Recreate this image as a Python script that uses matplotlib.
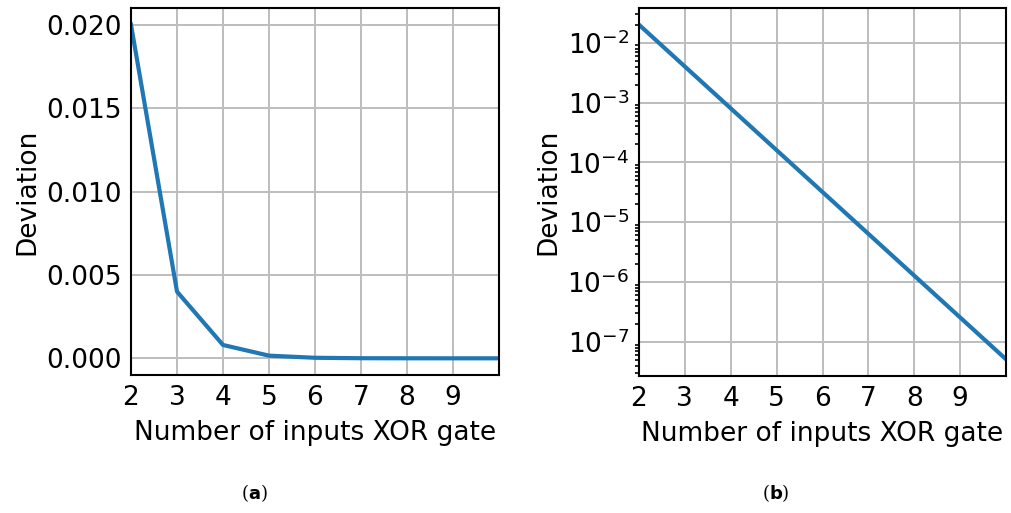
import matplotlib
matplotlib.use("Agg")
import matplotlib.pyplot as plt

n_inputs = [2, 3, 4, 5, 6, 7, 8, 9, 10]
deviation = [0.02, 0.004, 0.0008, 0.00016, 3.2e-05, 6.4e-06, 1.28e-06, 2.56e-07, 5.12e-08]
xticks = [2, 3, 4, 5, 6, 7, 8, 9]
yticks_lin = [0.0, 0.005, 0.010, 0.015, 0.020]

plt.rcParams['font.size'] = 19

fig = plt.figure(figsize=(10.11, 5.13), dpi=100)
ax1 = fig.add_axes([131/1011, 1 - 375/513, 368/1011, 367/513])
ax2 = fig.add_axes([639/1011, 1 - 376/513, 367/1011, 368/513])

for ax in (ax1, ax2):
    ax.plot(n_inputs, deviation, color='#1f77b4', lw=3)
    ax.set_xlim(2, 10)
    ax.set_xticks(xticks)
    ax.grid(True, color='#bdbdbd', lw=1.4)
    ax.set_axisbelow(True)
    ax.tick_params(axis='both', which='major', length=0, pad=7)
    ax.set_xlabel('Number of inputs XOR gate', labelpad=7)
    ax.set_ylabel('Deviation', labelpad=4)
    for s in ax.spines.values():
        s.set_linewidth(1.5)

ax1.set_yticks(yticks_lin)
ax1.set_yticklabels(['%.3f' % v for v in yticks_lin])
ax1.margins(x=0, y=0.05)
ax1.set_xlim(2, 10)

ax2.set_yscale('log')
ax2.set_xlim(2, 10)
ax2.tick_params(axis='y', which='minor', length=3, width=1.2, direction='out')
ax2.tick_params(axis='y', which='major', length=0, pad=7)

fig.text(254/1011, 1 - 493/513, r'($\mathbf{a}$)', ha='center', va='center',
         fontsize=13, family='serif')
fig.text(776/1011, 1 - 493/513, r'($\mathbf{b}$)', ha='center', va='center',
         fontsize=13, family='serif')

fig.savefig('out.png', dpi=100)
